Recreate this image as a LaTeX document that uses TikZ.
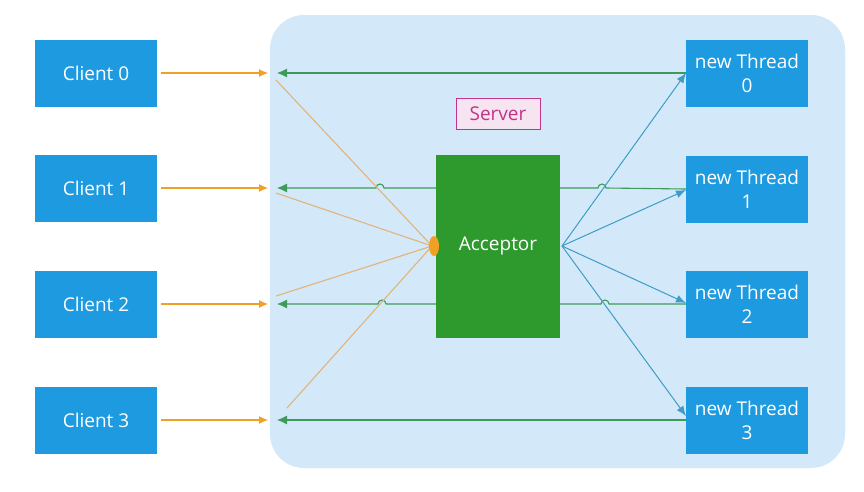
\documentclass[tikz,border=0pt]{standalone}
\usepackage{fontspec}
\setmainfont{Open Sans}
\usetikzlibrary{arrows.meta}
\definecolor{boxblue}{HTML}{1E9BE0}
\definecolor{accgreen}{HTML}{2E9A2E}
\definecolor{srvbg}{HTML}{D3E9F9}
\definecolor{orangeA}{HTML}{F0A024}
\definecolor{orangeL}{HTML}{E2B47A}
\definecolor{greenA}{HTML}{3E9A5A}
\definecolor{blueA}{HTML}{3F9CC6}
\definecolor{srvpink}{HTML}{C2338A}
\definecolor{srvfill}{HTML}{F6E4F1}
\begin{document}
\begin{tikzpicture}[x=1pt,y=-1pt,
  bluebox/.style={fill=boxblue,text=white,minimum width=122pt,minimum height=67pt,inner sep=0pt,align=center,font=\fontsize{19}{24}\selectfont},
  accbox/.style={fill=accgreen,text=white,minimum width=124pt,minimum height=183pt,inner sep=0pt,font=\fontsize{19}{22}\selectfont},
  oarrow/.style={draw=orangeA,line width=1.1pt,-{Latex[length=9pt,width=8pt]}},
  oline/.style={draw=orangeL,line width=1.1pt},
  garrow/.style={draw=greenA,line width=1.1pt,-{Latex[length=10pt,width=9pt]}},
  barrow/.style={draw=blueA,line width=1pt,-{Latex[length=10pt,width=8pt]}}]
\useasboundingbox (0,0) rectangle (864,491);
\fill[white] (0,0) rectangle (864,491);
% server background
\fill[srvbg,rounded corners=34pt] (270,15) rectangle (845,468);
\node[draw=srvpink,fill=srvfill,text=srvpink,line width=0.8pt,minimum width=84pt,minimum height=31pt,inner sep=0pt,font=\fontsize{19}{22}\selectfont] (srv) at (498,114) {Server};
% clients
\node[bluebox] (c0) at (96,73) {Client 0};
\node[bluebox] (c1) at (96,188) {Client 1};
\node[bluebox] (c2) at (96,304) {Client 2};
\node[bluebox] (c3) at (96,420) {Client 3};
% threads
\node[bluebox] (t0) at (747,73) {new Thread\\0};
\node[bluebox] (t1) at (747,189) {new Thread\\1};
\node[bluebox] (t2) at (747,304) {new Thread\\2};
\node[bluebox] (t3) at (747,420) {new Thread\\3};
% coordinates
\coordinate (oe0) at (268,73);
\coordinate (oe1) at (268,188);
\coordinate (oe2) at (268,304);
\coordinate (oe3) at (268,420);
\coordinate (ge0) at (277,73);
\coordinate (ge1) at (277,188);
\coordinate (ge2) at (277,304);
\coordinate (ge3) at (277,420);
\coordinate (os0) at (276,80);
\coordinate (os1) at (276,193);
\coordinate (os2) at (276,296);
\coordinate (os3) at (287,408);
\coordinate (ain) at (432,246);
\coordinate (aout) at (562,246);
% orange client arrows
\foreach \i in {0,1,2,3} {\draw[oarrow] (c\i.east) ++(4,0) -- (oe\i);}
% green lines (behind acceptor)
\draw[garrow] (t0.west) -- (ge0);
\draw[garrow] (t1.west) -- (606,188) arc[start angle=0,end angle=-180,radius=4] -- (384,188) arc[start angle=0,end angle=-180,radius=4] -- (ge1);
\draw[garrow] (t2.west) -- (609,304) arc[start angle=0,end angle=-180,radius=4] -- (386,304) arc[start angle=0,end angle=-180,radius=4] -- (ge2);
\draw[garrow] (t3.west) -- (ge3);
% acceptor
\node[accbox] (acc) at (498,246) {Acceptor};
% orange diagonals to acceptor
\foreach \i in {0,1,2,3} {\draw[oline] (os\i) -- (ain);}
\fill[orangeA] (434,246) ellipse[x radius=5pt,y radius=10pt];
% blue arrows
\draw[barrow] (aout) -- (686,73);
\draw[barrow] (aout) -- (686,190);
\draw[barrow] (aout) -- (686,303);
\draw[barrow] (aout) -- (686,416);
\end{tikzpicture}
\end{document}
